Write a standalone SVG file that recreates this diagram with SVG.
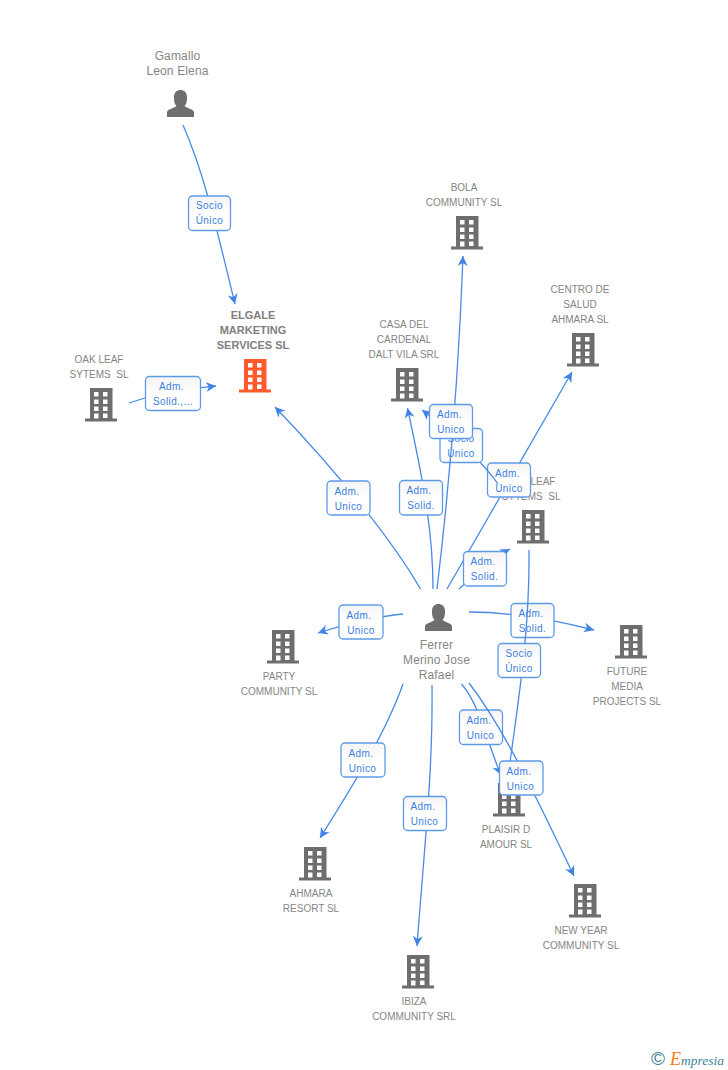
<svg xmlns="http://www.w3.org/2000/svg" width="728" height="1070" viewBox="0 0 728 1070">
<style>
text{font-family:"Liberation Sans",Arial,sans-serif;text-anchor:middle;fill:#858585;white-space:pre}
.co{font-size:10px}
.pe{font-size:12px;letter-spacing:.15px}
.main{font-size:11px;font-weight:bold;fill:#808080}
.ln{fill:none;stroke:#4a8ae6;stroke-width:1.3}
.ar{marker-end:url(#arrow)}
.box{fill:url(#boxfill);stroke:#5c9ae8;stroke-width:1.3}
.lb{font-size:10px;letter-spacing:.4px;fill:#3b7ddd}
.grey{fill:#6e6e6e}
.org{fill:#ff5a2d}
</style>
<defs>
<linearGradient id="boxfill" x1="0" y1="0" x2="0" y2="1"><stop offset="0" stop-color="#f4f4f4"/><stop offset=".5" stop-color="#ffffff"/></linearGradient>
<marker id="arrow" markerUnits="userSpaceOnUse" markerWidth="11" markerHeight="11" viewBox="0 -5.5 11 11" refX="10" refY="0" orient="auto"><path d="M10,0 L0,-5 L3,0 L0,5 Z" fill="#3f83e4"/></marker>
<symbol id="bld" width="32" height="34" viewBox="0 0 32 34" overflow="visible">
<path fill-rule="evenodd" d="M5,0H27.5V30.500H32V33.500H0V30.500H5ZM9,4V8.500H13.500V4ZM18,4V8.500H22.500V4ZM9,11.500V16H13.500V11.500ZM18,11.500V16H22.500V11.500ZM9,18.500V23H13.500V18.500ZM18,18.500V23H22.500V18.500ZM9,25.500V30.500H13.500V25.500ZM18,25.500V30H22.500V25.500Z"/>
</symbol>
<symbol id="psn" width="27" height="27" viewBox="0 0 27 27" overflow="visible">
<path d="M0,27V22.500C0,19 7,18.500 9.500,16C7,13.500 7,10 7,7C7,2.500 10,0 13.500,0C17,0 20,2.500 20,7C20,10 20,13.500 17.500,16C20,18.500 27,19 27,22.500V27Z"/>
</symbol>
</defs>
<rect width="728" height="1070" fill="#ffffff"/>

<g id="node-gamallo"><text class="pe" x="177.500" y="60">Gamallo</text><text class="pe" x="177.500" y="75">Leon Elena</text><use href="#psn" class="grey" x="167" y="90"/></g>
<g id="node-elgale"><text class="main" x="253" y="319">ELGALE</text><text class="main" x="253" y="334">MARKETING</text><text class="main" x="253" y="349">SERVICES SL</text><use href="#bld" class="org" x="239" y="359"/></g>
<g id="node-oak"><text class="co" x="99" y="363">OAK LEAF</text><text class="co" x="99" y="378">SYTEMS  SL</text><use href="#bld" class="grey" x="85" y="388"/></g>
<g id="node-bola"><text class="co" x="464" y="191">BOLA</text><text class="co" x="464" y="206">COMMUNITY SL</text><use href="#bld" class="grey" x="451" y="216"/></g>
<g id="node-centro"><text class="co" x="580" y="293">CENTRO DE</text><text class="co" x="580" y="308">SALUD</text><text class="co" x="580" y="323">AHMARA SL</text><use href="#bld" class="grey" x="567" y="333"/></g>
<g id="node-casa"><text class="co" x="404" y="328">CASA DEL</text><text class="co" x="404" y="343">CARDENAL</text><text class="co" x="404" y="358">DALT VILA SRL</text><use href="#bld" class="grey" x="391" y="368"/></g>
<g id="node-leaf"><text class="co" x="531" y="485">OAK LEAF</text><text class="co" x="531" y="500">SYTEMS  SL</text><use href="#bld" class="grey" x="517" y="510"/></g>
<g id="node-future"><text class="co" x="627" y="675">FUTURE</text><text class="co" x="627" y="690">MEDIA</text><text class="co" x="627" y="705">PROJECTS SL</text><use href="#bld" class="grey" x="615" y="625"/></g>
<g id="node-party"><text class="co" x="279" y="680">PARTY</text><text class="co" x="279" y="695">COMMUNITY SL</text><use href="#bld" class="grey" x="267" y="630"/></g>
<g id="node-plaisir"><text class="co" x="506" y="833">PLAISIR D</text><text class="co" x="506" y="848">AMOUR SL</text><use href="#bld" class="grey" x="493" y="783"/></g>
<g id="node-ahmara"><text class="co" x="311" y="897">AHMARA</text><text class="co" x="311" y="912">RESORT SL</text><use href="#bld" class="grey" x="299" y="847"/></g>
<g id="node-newyear"><text class="co" x="581" y="934">NEW YEAR</text><text class="co" x="581" y="949">COMMUNITY SL</text><use href="#bld" class="grey" x="569" y="884"/></g>
<g id="node-ibiza"><text class="co" x="414" y="1005">IBIZA</text><text class="co" x="414" y="1020">COMMUNITY SRL</text><use href="#bld" class="grey" x="402" y="955"/></g>
<g id="node-ferrer"><use href="#psn" class="grey" x="425" y="604"/><text class="pe" x="436.500" y="649">Ferrer</text><text class="pe" x="436.500" y="664">Merino Jose</text><text class="pe" x="436.500" y="679">Rafael</text></g>

<g id="connectors">
<path class="ln ar" d="M183,125C205,175 218,235 235,304"/>
<rect class="box" x="188.500" y="196" width="42" height="34.500" rx="4"/><text class="lb" x="209.500" y="209">Socio</text><text class="lb" x="209.500" y="224">Único</text>

<path class="ln ar" d="M129,403L145,398C165,391 190,389 216,386"/>
<rect class="box" x="145.500" y="376.500" width="55" height="34" rx="4"/><text class="lb" x="171.500" y="390">Adm.</text><text class="lb" x="173" y="405">Solid.,...</text>

<path class="ln ar" d="M420.500,589C395,545 345,480 275,407"/>
<rect class="box" x="327" y="481" width="43" height="34" rx="4"/><text class="lb" x="347" y="495">Adm.</text><text class="lb" x="348.500" y="510">Unico</text>

<path class="ln ar" d="M433,589C433,530 423,480 407.500,408"/>
<rect class="box" x="399.500" y="480.500" width="43" height="34.500" rx="4"/><text class="lb" x="419" y="494">Adm.</text><text class="lb" x="421" y="509">Solid.</text>

<path class="ln ar" d="M447,589L572,372"/>
<rect class="box" x="487.500" y="463" width="43" height="34" rx="4"/><text class="lb" x="507.500" y="477">Adm.</text><text class="lb" x="509" y="492">Unico</text>

<path class="ln ar" d="M498,484C485,465 455,435 422,410"/>
<rect class="box" x="440" y="428.500" width="42.500" height="34" rx="4"/><text class="lb" x="461" y="442">Socio</text><text class="lb" x="461" y="457">Único</text>

<path class="ln ar" d="M437,589Q457,422 463,256"/>
<rect class="box" x="429.500" y="404.500" width="43" height="34" rx="4"/><text class="lb" x="449.500" y="418">Adm.</text><text class="lb" x="451" y="433">Unico</text>

<path class="ln ar" d="M459,589C475,575 490,560 510,549"/>
<rect class="box" x="463.500" y="551.500" width="43" height="34.500" rx="4"/><text class="lb" x="483" y="565">Adm.</text><text class="lb" x="484.500" y="580">Solid.</text>

<path class="ln ar" d="M403,614C380,616 345,624 318,633"/>
<rect class="box" x="339" y="605" width="44" height="34" rx="4"/><text class="lb" x="359" y="619">Adm.</text><text class="lb" x="361" y="634">Unico</text>

<path class="ln ar" d="M403,684C385,735 350,790 320,838"/>
<rect class="box" x="341" y="743" width="44" height="34" rx="4"/><text class="lb" x="361" y="757">Adm.</text><text class="lb" x="362.500" y="772">Unico</text>

<path class="ln ar" d="M432,685C433,770 425,840 417,946"/>
<rect class="box" x="403.500" y="796.500" width="43" height="34" rx="4"/><text class="lb" x="423" y="810">Adm.</text><text class="lb" x="424.500" y="825">Unico</text>

<path class="ln ar" d="M469,612C510,612 555,620 594,630"/>
<rect class="box" x="511" y="603.500" width="43" height="34" rx="4"/><text class="lb" x="531" y="617">Adm.</text><text class="lb" x="532.500" y="632">Solid.</text>

<path class="ln ar" d="M529,550C530,640 515,720 508,778"/>
<rect class="box" x="498" y="643.500" width="42.500" height="34" rx="4"/><text class="lb" x="519" y="657">Socio</text><text class="lb" x="519" y="672">Único</text>

<path class="ln ar" d="M461.500,684C480,705 488,745 501,775"/>
<rect class="box" x="459.500" y="710" width="43" height="34.500" rx="4"/><text class="lb" x="479" y="724">Adm.</text><text class="lb" x="480.500" y="739">Unico</text>

<path class="ln ar" d="M469,683C505,730 535,795 574,876"/>
<rect class="box" x="499.500" y="761" width="43.500" height="34" rx="4"/><text class="lb" x="519" y="775">Adm.</text><text class="lb" x="520.500" y="790">Unico</text>
</g>

<g id="logo">
<text x="658" y="1065" style="font-size:19px;fill:#3f7f9c">©</text>
<text x="670" y="1065" style="text-anchor:start;font-family:'Liberation Serif',serif;font-style:italic;font-size:13.5px;fill:#3f7f9c"><tspan style="font-size:18px;fill:#f08020">E</tspan>mpresia</text>
</g>
</svg>
